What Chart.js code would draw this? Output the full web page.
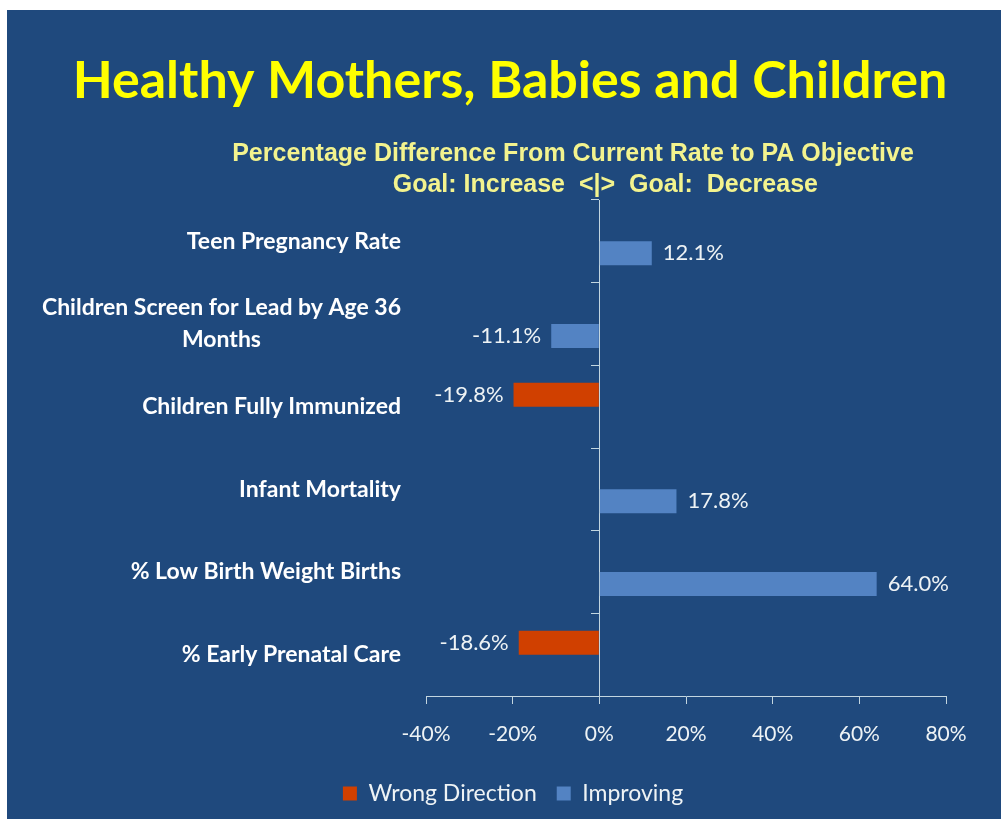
<!DOCTYPE html>
<html>
<head>
<meta charset="utf-8">
<script src="https://cdn.jsdelivr.net/npm/chart.js@4"></script>
<style>
  html, body { margin: 0; background: #fff; }
  #panel { position: absolute; left: 7px; top: 10px; width: 994px; height: 809px; background: #1f497d; }
</style>
</head>
<body>
<div id="panel"><canvas id="chart"></canvas></div>
<script>
const title = 'Healthy Mothers, Babies and Children'
const subtitle = ['Percentage Difference From Current Rate to PA Objective', 'Goal: Increase  <|>  Goal:  Decrease']
const categories = [
  'Teen Pregnancy Rate',
  ['Children Screen for Lead by Age 36', 'Months'],
  'Children Fully Immunized',
  'Infant Mortality',
  '% Low Birth Weight Births',
  '% Early Prenatal Care',
]
const wrongDirection = [null, null, -19.8, null, null, -18.6]
const improving = [12.1, -11.1, null, 17.8, 64.0, null]
const tickValues = [-40, -20, 0, 20, 40, 60, 80]

const axisColor = '#c3d6e0'
const textColor = '#eef3f5'

// headings, category labels and bar value labels
const slideText = {
  id: 'slideText',
  afterDatasetsDraw(chart) {
    const ctx = chart.ctx
    ctx.save()
    ctx.fillStyle = textColor
    ctx.font = '22px Lato'
    ctx.textBaseline = 'middle'
    chart.data.datasets.forEach((ds, di) => {
      const meta = chart.getDatasetMeta(di)
      meta.data.forEach((bar, i) => {
        const v = ds.data[i]
        if (v == null) return
        const txt = v.toFixed(1) + '%'
        if (v >= 0) {
          ctx.textAlign = 'left'
          ctx.fillText(txt, bar.x + 11, bar.y)
        } else {
          ctx.textAlign = 'right'
          ctx.fillText(txt, bar.x - 10, bar.y)
        }
      })
    })
    ctx.restore()
  },
  afterDraw(chart) {
    const ctx = chart.ctx
    const x = chart.scales.x
    const y = chart.scales.y
    ctx.save()
    ctx.textAlign = 'center'
    ctx.textBaseline = 'middle'
    ctx.fillStyle = '#ffff00'
    ctx.font = 'bold 52px Lato'
    ctx.fillText(title, 503, 71)
    ctx.fillStyle = '#f3f38e'
    ctx.font = 'bold 25px "Liberation Sans"'
    ctx.fillText(subtitle[0], 566, 144)
    ctx.fillText(subtitle[1], x.getPixelForValue(0) + 6, 175)

    ctx.fillStyle = '#ffffff'
    ctx.font = 'bold 23px Lato'
    categories.forEach((lab, i) => {
      const lines = Array.isArray(lab) ? lab : [lab]
      const cy = y.getPixelForValue(i)
      const widest = Math.max(...lines.map(l => ctx.measureText(l).width))
      const cx = 394 - widest / 2
      lines.forEach((l, j) => {
        ctx.fillText(l, cx, cy + (j - (lines.length - 1) / 2) * 32)
      })
    })
    ctx.restore()
  },
}

new Chart(document.getElementById('chart'), {
  type: 'bar',
  data: {
    labels: categories,
    datasets: [
      { label: 'Wrong Direction', data: wrongDirection, backgroundColor: '#d04000' },
      { label: 'Improving', data: improving, backgroundColor: '#5383c3' },
    ],
  },
  options: {
    indexAxis: 'y',
    responsive: true,
    maintainAspectRatio: false,
    animation: false,
    categoryPercentage: 0.58,
    barPercentage: 1,
    layout: { padding: { top: 190, left: 73, right: 55, bottom: 4 } },
    scales: {
      x: {
        min: -40,
        max: 80,
        afterBuildTicks: s => { s.ticks = tickValues.map(v => ({ value: v })) },
        afterFit: s => { s.height = 66 },
        grid: { drawOnChartArea: false, tickLength: 8, color: axisColor },
        border: { color: axisColor, width: 1 },
        ticks: {
          padding: 18,
          color: textColor,
          font: { family: 'Lato', size: 21 },
          callback: v => v + '%',
        },
      },
      y: {
        position: 'left',
        afterFit: s => { s.width = 346 },
        grid: { display: false },
        border: { display: false },
        ticks: { display: false },
      },
      y2: {
        type: 'category',
        labels: categories,
        position: { x: 0 },
        offset: true,
        grid: { offset: true, drawOnChartArea: false, tickLength: 8, color: axisColor },
        border: { color: axisColor, width: 1 },
        ticks: { display: false },
      },
    },
    plugins: {
      legend: {
        position: 'bottom',
        labels: {
          color: textColor,
          font: { family: 'Lato', size: 23 },
          boxWidth: 14,
          boxHeight: 14,
          padding: 20,
        },
      },
      tooltip: { enabled: false },
    },
  },
  plugins: [slideText],
})
</script>
</body>
</html>
